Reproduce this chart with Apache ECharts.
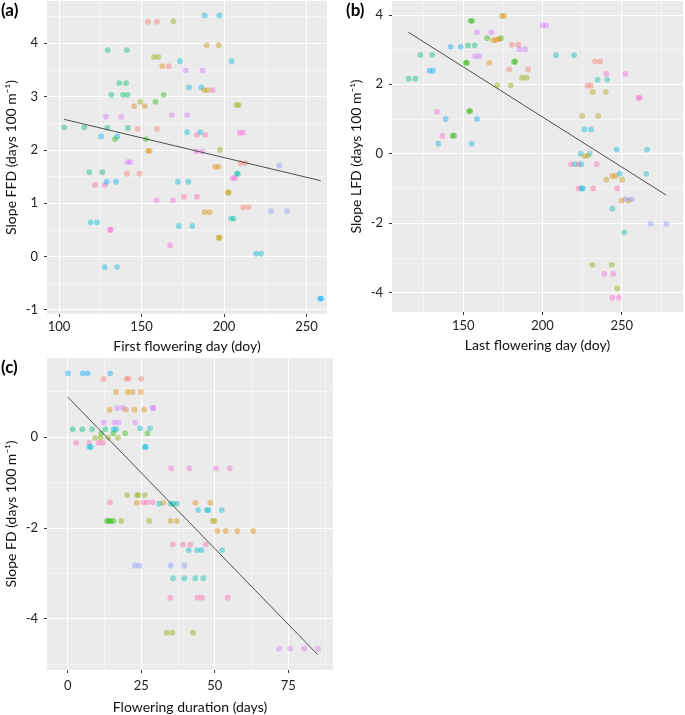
<!DOCTYPE html>
<html><head><meta charset="utf-8">
<script src="https://cdn.jsdelivr.net/npm/echarts@6/dist/echarts.min.js"></script>
<style>html,body{margin:0;padding:0;background:#fff}#c{width:685px;height:715px}</style>
</head><body><div id="c"></div>
<script>
// species colour groups (ggplot hue palette, 13 levels)
const palette = ['#F8766D','#E18A00','#BE9C00','#8CAB00','#24B700','#00BE70','#00C1AB','#00BBDA','#00ACFC','#8B93FF','#D575FE','#F962DD','#FF65AC'];

// Panel (a): [first flowering day, slope FFD, species]
const aPts = [[103.2,2.42,5],[115.3,2.42,5],[129.5,3.87,5],[141.2,3.87,5],[129.3,2.41,5],[141.8,2.41,5],[125.5,2.25,8],[135.3,2.25,8],[133.9,2.20,4],[152.7,2.20,4],[128.5,2.62,10],[137.8,2.62,10],[136.6,3.25,5],[140.6,3.25,5],[131.7,3.03,5],[138.8,3.03,5],[141.6,3.03,5],[163.4,3.03,4],[149.3,2.90,3],[158.4,2.90,4],[145.5,2.82,1],[151.9,2.82,1],[147.7,2.39,0],[159.4,2.39,0],[153.9,4.40,0],[159.4,4.40,0],[169.3,4.41,3],[157.6,3.74,3],[160.2,3.74,3],[162.6,3.57,1],[166.5,3.57,0],[173.3,3.66,7],[204.6,3.66,7],[176.8,3.49,10],[187.1,3.49,10],[178.8,3.17,7],[186.2,3.17,7],[188.0,3.12,1],[190.1,3.12,2],[193.1,3.12,12],[188.3,4.52,7],[197.2,4.52,7],[189.5,3.96,2],[196.8,3.96,2],[207.5,2.84,3],[209.0,2.84,3],[168.3,2.65,10],[177.6,2.65,10],[177.6,2.33,7],[185.6,2.33,7],[183.5,2.28,12],[188.7,2.28,12],[209.5,2.32,11],[211.5,2.32,11],[153.8,1.98,1],[155.0,1.98,1],[183.2,1.97,11],[186.8,1.97,11],[197.6,2.00,3],[141.5,1.77,10],[143.3,1.77,10],[194.6,1.68,1],[196.6,1.68,1],[210.0,1.75,0],[212.7,1.75,0],[233.5,1.70,9],[118.4,1.58,5],[126.3,1.58,5],[141.2,1.55,0],[148.7,1.55,0],[207.8,1.55,6],[208.4,1.55,6],[121.8,1.34,12],[127.7,1.34,12],[128.9,1.40,8],[134.5,1.40,8],[172.1,1.40,7],[178.4,1.40,7],[205.3,1.47,11],[206.7,1.47,11],[202.3,1.20,2],[202.9,1.20,2],[159.0,1.05,11],[169.1,1.05,11],[175.8,1.12,12],[183.6,1.12,12],[188.3,0.83,1],[191.3,0.83,1],[211.7,0.92,0],[215.0,0.92,0],[228.5,0.85,9],[238.2,0.85,9],[119.2,0.64,7],[123.0,0.64,7],[130.8,0.50,11],[131.4,0.50,11],[172.7,0.57,7],[180.8,0.57,7],[204.4,0.71,6],[205.8,0.71,6],[196.7,0.35,2],[197.3,0.35,2],[167.3,0.21,11],[219.4,0.05,7],[222.4,0.05,7],[127.7,-0.20,7],[135.2,-0.20,7],[258.2,-0.79,8],[259.0,-0.79,8]];
const aFit = [[103.2,2.57],[258.6,1.42]];

// Panel (b): [last flowering day, slope LFD, species]
const bPts = [[115.5,2.16,5],[119.7,2.16,5],[122.9,2.85,5],[130.4,2.85,5],[128.7,2.39,8],[130.9,2.39,8],[133.4,1.21,11],[138.9,1.0,8],[136.7,0.51,11],[143.2,0.52,4],[144.2,0.52,4],[134.2,0.29,7],[155.3,0.29,7],[153.6,1.23,4],[154.4,1.23,4],[158.6,1.0,8],[142,3.08,8],[148.4,3.08,8],[153,3.12,5],[157.2,3.12,5],[154.5,3.83,4],[155.7,3.83,4],[151.5,2.62,4],[152.3,2.62,4],[158.6,3.5,10],[167.7,3.5,10],[157.4,2.81,10],[160.1,2.81,10],[165,3.33,4],[173.8,3.33,4],[166.4,2.62,1],[168.9,3.27,1],[170.8,3.28,1],[172.4,3.30,1],[174.5,3.97,1],[175.7,3.97,1],[171.5,1.97,3],[179.9,1.97,3],[179,2.43,0],[191,2.43,0],[180.6,3.14,0],[184.7,3.14,0],[182.0,2.65,4],[182.8,2.65,4],[185.4,3.01,10],[189,3.01,10],[187.1,2.19,3],[190,2.19,3],[200.1,3.7,10],[202.4,3.7,10],[208.5,2.84,6],[219.9,2.84,6],[233.2,2.66,0],[236.5,2.66,0],[228.3,1.96,0],[230.6,1.96,0],[231.7,1.78,2],[239.9,1.78,2],[234.8,2.13,6],[240.9,2.13,6],[240.3,2.3,11],[252.3,2.3,11],[260.5,1.61,11],[261.5,1.61,11],[225.1,1.09,2],[235.2,1.09,2],[226.4,0.7,7],[230.6,0.7,7],[246.8,0.12,7],[266,0.12,7],[224.1,0,7],[229.8,0,7],[226.4,-0.06,2],[228.5,-0.06,2],[218,-0.3,12],[220.5,-0.3,7],[222.8,-0.3,12],[224.5,-0.3,7],[234.2,-0.3,12],[244,-0.64,1],[246.2,-0.64,1],[240.3,-0.75,2],[250.4,-0.75,2],[248.7,-0.58,7],[265.5,-0.58,7],[222.8,-1,12],[224.7,-1,7],[225.5,-1,7],[232,-1,12],[247.2,-1,12],[250,-1.35,1],[254.4,-1.35,1],[252.5,-1.31,9],[256.3,-1.31,9],[244.1,-1.58,6],[268.3,-2.02,9],[278.2,-2.02,9],[251.6,-2.27,6],[231.5,-3.2,3],[243.7,-3.2,3],[239,-3.46,11],[244.7,-3.46,11],[247.2,-3.88,3],[244.1,-4.15,11],[248.2,-4.15,11]];
const bFit = [[115.3,3.50],[278,-1.19]];

// Panel (c): [flowering duration, slope FD, species]
const cPts = [[0.1,1.40,8],[5.1,1.40,8],[6.8,1.40,8],[14.4,1.40,8],[12.2,1.28,0],[20.0,1.28,0],[20.8,1.28,0],[25.0,1.28,0],[16.4,0.99,1],[20.4,0.99,1],[22.1,0.99,1],[24.9,0.99,1],[14.3,0.60,1],[19.8,0.60,1],[22.7,0.60,1],[26.0,0.60,1],[16.9,0.64,10],[18.8,0.64,10],[28.8,0.64,10],[29.2,0.64,10],[12.3,0.32,10],[15.9,0.32,10],[17.3,0.32,10],[23.0,0.32,10],[1.7,0.17,5],[5.0,0.17,5],[8.3,0.17,5],[12.8,0.17,5],[15.6,0.17,7],[16.5,0.17,7],[24.6,0.19,7],[28.0,0.19,7],[11.4,0.08,4],[15.5,0.08,4],[19.6,0.08,4],[27.1,0.08,4],[9.3,-0.02,3],[11.2,-0.02,3],[13.8,-0.02,3],[17.1,-0.02,3],[2.9,-0.13,12],[7.3,-0.13,12],[10.5,-0.13,12],[12.0,-0.13,12],[7.4,-0.22,7],[7.9,-0.22,7],[26.2,-0.22,7],[26.6,-0.22,7],[35.2,-0.69,11],[41.4,-0.69,11],[50.4,-0.69,11],[55.1,-0.69,11],[20.2,-1.28,3],[23.6,-1.28,3],[24.0,-1.28,3],[26.2,-1.28,3],[14.4,-1.44,12],[25.7,-1.44,12],[27.0,-1.44,12],[28.9,-1.44,12],[23.5,-1.45,1],[32.5,-1.45,1],[43.4,-1.45,1],[48.5,-1.45,1],[31.1,-1.47,6],[35.0,-1.47,6],[36.0,-1.47,6],[37.1,-1.47,6],[44.4,-1.61,7],[47.3,-1.61,7],[47.9,-1.61,7],[52.4,-1.61,7],[13.3,-1.85,4],[14.0,-1.85,4],[14.6,-1.85,4],[15.6,-1.85,4],[18.2,-1.85,3],[27.7,-1.85,3],[35.0,-1.85,2],[37.1,-1.85,2],[49.4,-1.85,2],[50.0,-1.85,2],[50.9,-2.07,1],[53.7,-2.07,1],[57.7,-2.07,1],[63.1,-2.07,1],[35.8,-2.37,12],[39.2,-2.37,12],[41.7,-2.37,12],[47.0,-2.37,12],[41.2,-2.49,7],[44.0,-2.49,7],[45.5,-2.49,7],[52.5,-2.49,7],[22.9,-2.83,9],[24.4,-2.83,9],[35.0,-2.83,9],[39.7,-2.83,9],[35.8,-3.11,6],[39.7,-3.11,6],[43.4,-3.11,6],[46.1,-3.11,6],[34.9,-3.54,12],[44.1,-3.54,12],[45.7,-3.54,12],[54.4,-3.54,12],[33.7,-4.31,3],[35.6,-4.31,3],[42.6,-4.31,3],[71.9,-4.66,10],[75.7,-4.66,10],[80.4,-4.66,10],[85.1,-4.66,10]];
const cFit = [[0,0.88],[85,-4.79]];

// tick labels
const aXTicks = [100,150,200,250];
const aYTicks = [-1,0,1,2,3,4];
const bXTicks = [150,200,250];
const bYTicks = [-4,-2,0,2,4];
const cXTicks = [0,25,50,75];
const cYTicks = [-4,-2,0];

const xNames = ['First flowering day (doy)','Last flowering day (doy)','Flowering duration (days)'];
const yNames = ['Slope FFD (days 100 m\u207B\u00B9)','Slope LFD (days 100 m\u207B\u00B9)','Slope FD (days 100 m\u207B\u00B9)'];
const panelTags = ['(a)','(b)','(c)'];

const FONT = 'Lato';
function mkAxis(dim, gi, min, max, iv, ticks, name, margin, gap) {
  return {
    type: 'value', gridIndex: gi, min: min, max: max,
    position: dim === 'y' ? 'left' : 'bottom',
    minInterval: iv, maxInterval: iv, splitNumber: Math.max(2, Math.round((max - min) / iv)),
    axisLine: { show: false, onZero: false },
    axisTick: { show: true, length: 3, customValues: ticks, lineStyle: { color: '#333', width: 1 } },
    axisLabel: {
      color: '#222', fontSize: 13, fontFamily: FONT, margin: margin, customValues: ticks,
      formatter: function (v) { return String(v); }
    },
    splitLine: { show: true, lineStyle: { color: '#FFFFFF', width: 1.1 } },
    minorTick: { show: false, splitNumber: 2 },
    minorSplitLine: { show: true, lineStyle: { color: '#FFFFFF', width: 0.6, opacity: 0.7 } },
    name: name, nameLocation: 'middle', nameGap: gap, nameRotate: dim === 'y' ? 90 : 0,
    nameTextStyle: { color: '#111', fontSize: 14, fontFamily: FONT }
  };
}

const grids = [
  { left: 47, top: 1, width: 280, height: 313 },
  { left: 392, top: 1, width: 291, height: 311 },
  { left: 47, top: 358, width: 286, height: 313 }
].map(g => Object.assign(g, { show: true, backgroundColor: '#EBEBEB', borderWidth: 0, containLabel: false }));

const xAxes = [
  mkAxis('x', 0, 92.73, 262.42, 50, aXTicks, xNames[0], 6, 25),
  mkAxis('x', 1, 104.99, 288.7, 50, bXTicks, xNames[1], 7, 26),
  mkAxis('x', 2, -7.04, 90.24, 25, cXTicks, xNames[2], 9, 30)
];
const yAxes = [
  mkAxis('y', 0, -1.08, 4.79, 1, aYTicks, yNames[0], 9, 29),
  mkAxis('y', 1, -4.56, 4.40, 2, bYTicks, yNames[1], 9, 29),
  mkAxis('y', 2, -5.13, 1.738, 2, cYTicks, yNames[2], 9, 29)
];

function scatter(pts, gi) {
  return {
    type: 'scatter', xAxisIndex: gi, yAxisIndex: gi, symbolSize: 5.8, data: pts,
    itemStyle: { color: p => palette[p.data[2]], opacity: 0.42 },
    silent: true, z: 2
  };
}
function fit(d, gi) {
  return {
    type: 'line', xAxisIndex: gi, yAxisIndex: gi, data: d, symbol: 'none',
    lineStyle: { color: '#3d3d3d', width: 0.9 }, silent: true, z: 3
  };
}

const chart = echarts.init(document.getElementById('c'), null, { renderer: 'canvas' });
chart.setOption({
  animation: false,
  backgroundColor: '#FFFFFF',
  grid: grids,
  xAxis: xAxes,
  yAxis: yAxes,
  series: [scatter(aPts, 0), fit(aFit, 0), scatter(bPts, 1), fit(bFit, 1), scatter(cPts, 2), fit(cFit, 2)],
  graphic: [
    { type: 'text', left: 1, top: 2, style: { text: panelTags[0], fontSize: 17, fontWeight: 'bold', fontFamily: FONT, fill: '#000' } },
    { type: 'text', left: 346, top: 2, style: { text: panelTags[1], fontSize: 17, fontWeight: 'bold', fontFamily: FONT, fill: '#000' } },
    { type: 'text', left: 1, top: 359, style: { text: panelTags[2], fontSize: 17, fontWeight: 'bold', fontFamily: FONT, fill: '#000' } }
  ]
});
</script>
</body></html>
